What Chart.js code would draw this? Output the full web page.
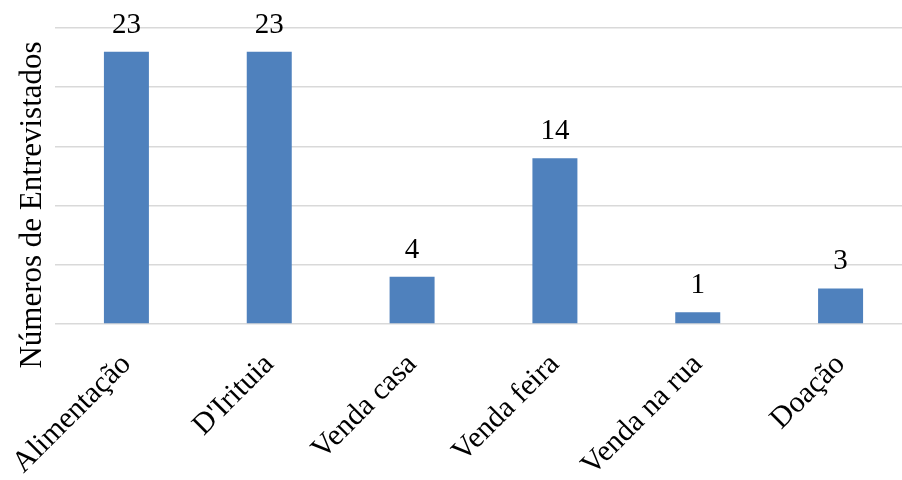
<!DOCTYPE html>
<html lang="pt">
<head>
<meta charset="utf-8">
<title>Números de Entrevistados</title>
<script src="https://cdn.jsdelivr.net/npm/chart.js@4/dist/chart.umd.min.js"></script>
<style>
  html, body { margin: 0; padding: 0; overflow: hidden; background: #ffffff; }
  canvas { display: block; }
</style>
</head>
<body>
<canvas id="grafico" width="912" height="480"></canvas>
<script>
// Dados do gráfico
const categorias = ['Alimentação', "D'Irituia", 'Venda casa', 'Venda feira', 'Venda na rua', 'Doação'];
const entrevistados = [23, 23, 4, 14, 1, 3];
const escalaY = [0, 5, 10, 15, 20, 25];
const tituloY = 'Números de Entrevistados';

const FONTE = '"Liberation Serif", "Times New Roman", Times, serif';

// Valor escrito acima de cada barra
const rotulosValores = {
  id: 'rotulosValores',
  afterDatasetsDraw(chart) {
    const ctx = chart.ctx;
    const meta = chart.getDatasetMeta(0);
    ctx.save();
    ctx.fillStyle = '#000000';
    ctx.font = '29px ' + FONTE;
    ctx.textAlign = 'center';
    ctx.textBaseline = 'alphabetic';
    meta.data.forEach((barra, i) => {
      ctx.fillText(String(chart.data.datasets[0].data[i]), barra.x, barra.y - 19);
    });
    ctx.restore();
  }
};

// Título vertical do eixo Y
const tituloEixoY = {
  id: 'tituloEixoY',
  afterDraw(chart) {
    const ctx = chart.ctx;
    ctx.save();
    ctx.translate(33, 205);
    ctx.rotate(-Math.PI / 2);
    ctx.fillStyle = '#000000';
    ctx.font = '31px ' + FONTE;
    ctx.textAlign = 'center';
    ctx.textBaseline = 'middle';
    ctx.fillText(tituloY, 0, 0);
    ctx.restore();
  }
};

new Chart(document.getElementById('grafico'), {
  type: 'bar',
  data: {
    labels: categorias,
    datasets: [{
      data: entrevistados,
      backgroundColor: '#4f81bd',
      borderWidth: 0,
      barPercentage: 0.315,
      categoryPercentage: 1
    }]
  },
  options: {
    responsive: false,
    animation: false,
    layout: { padding: { top: 28, left: 0, right: 0, bottom: 0 } },
    plugins: {
      legend: { display: false },
      tooltip: { enabled: false }
    },
    scales: {
      x: {
        grid: { display: false },
        border: { display: false },
        ticks: {
          autoSkip: false,
          minRotation: 45,
          maxRotation: 45,
          padding: 15,
          color: '#000000',
          font: { family: FONTE, size: 30 }
        },
        afterFit(scale) {
          scale.height = 156;
          scale.paddingLeft = 0;
          scale.paddingRight = 0;
        }
      },
      y: {
        min: escalaY[0],
        max: escalaY[escalaY.length - 1],
        afterBuildTicks(scale) { scale.ticks = escalaY.map(v => ({ value: v })); },
        ticks: { display: false },
        grid: { color: '#d9d9d9', lineWidth: 1.5, drawTicks: false },
        border: { display: false },
        afterFit(scale) { scale.width = 55; }
      }
    }
  },
  plugins: [rotulosValores, tituloEixoY]
});
</script>
</body>
</html>
